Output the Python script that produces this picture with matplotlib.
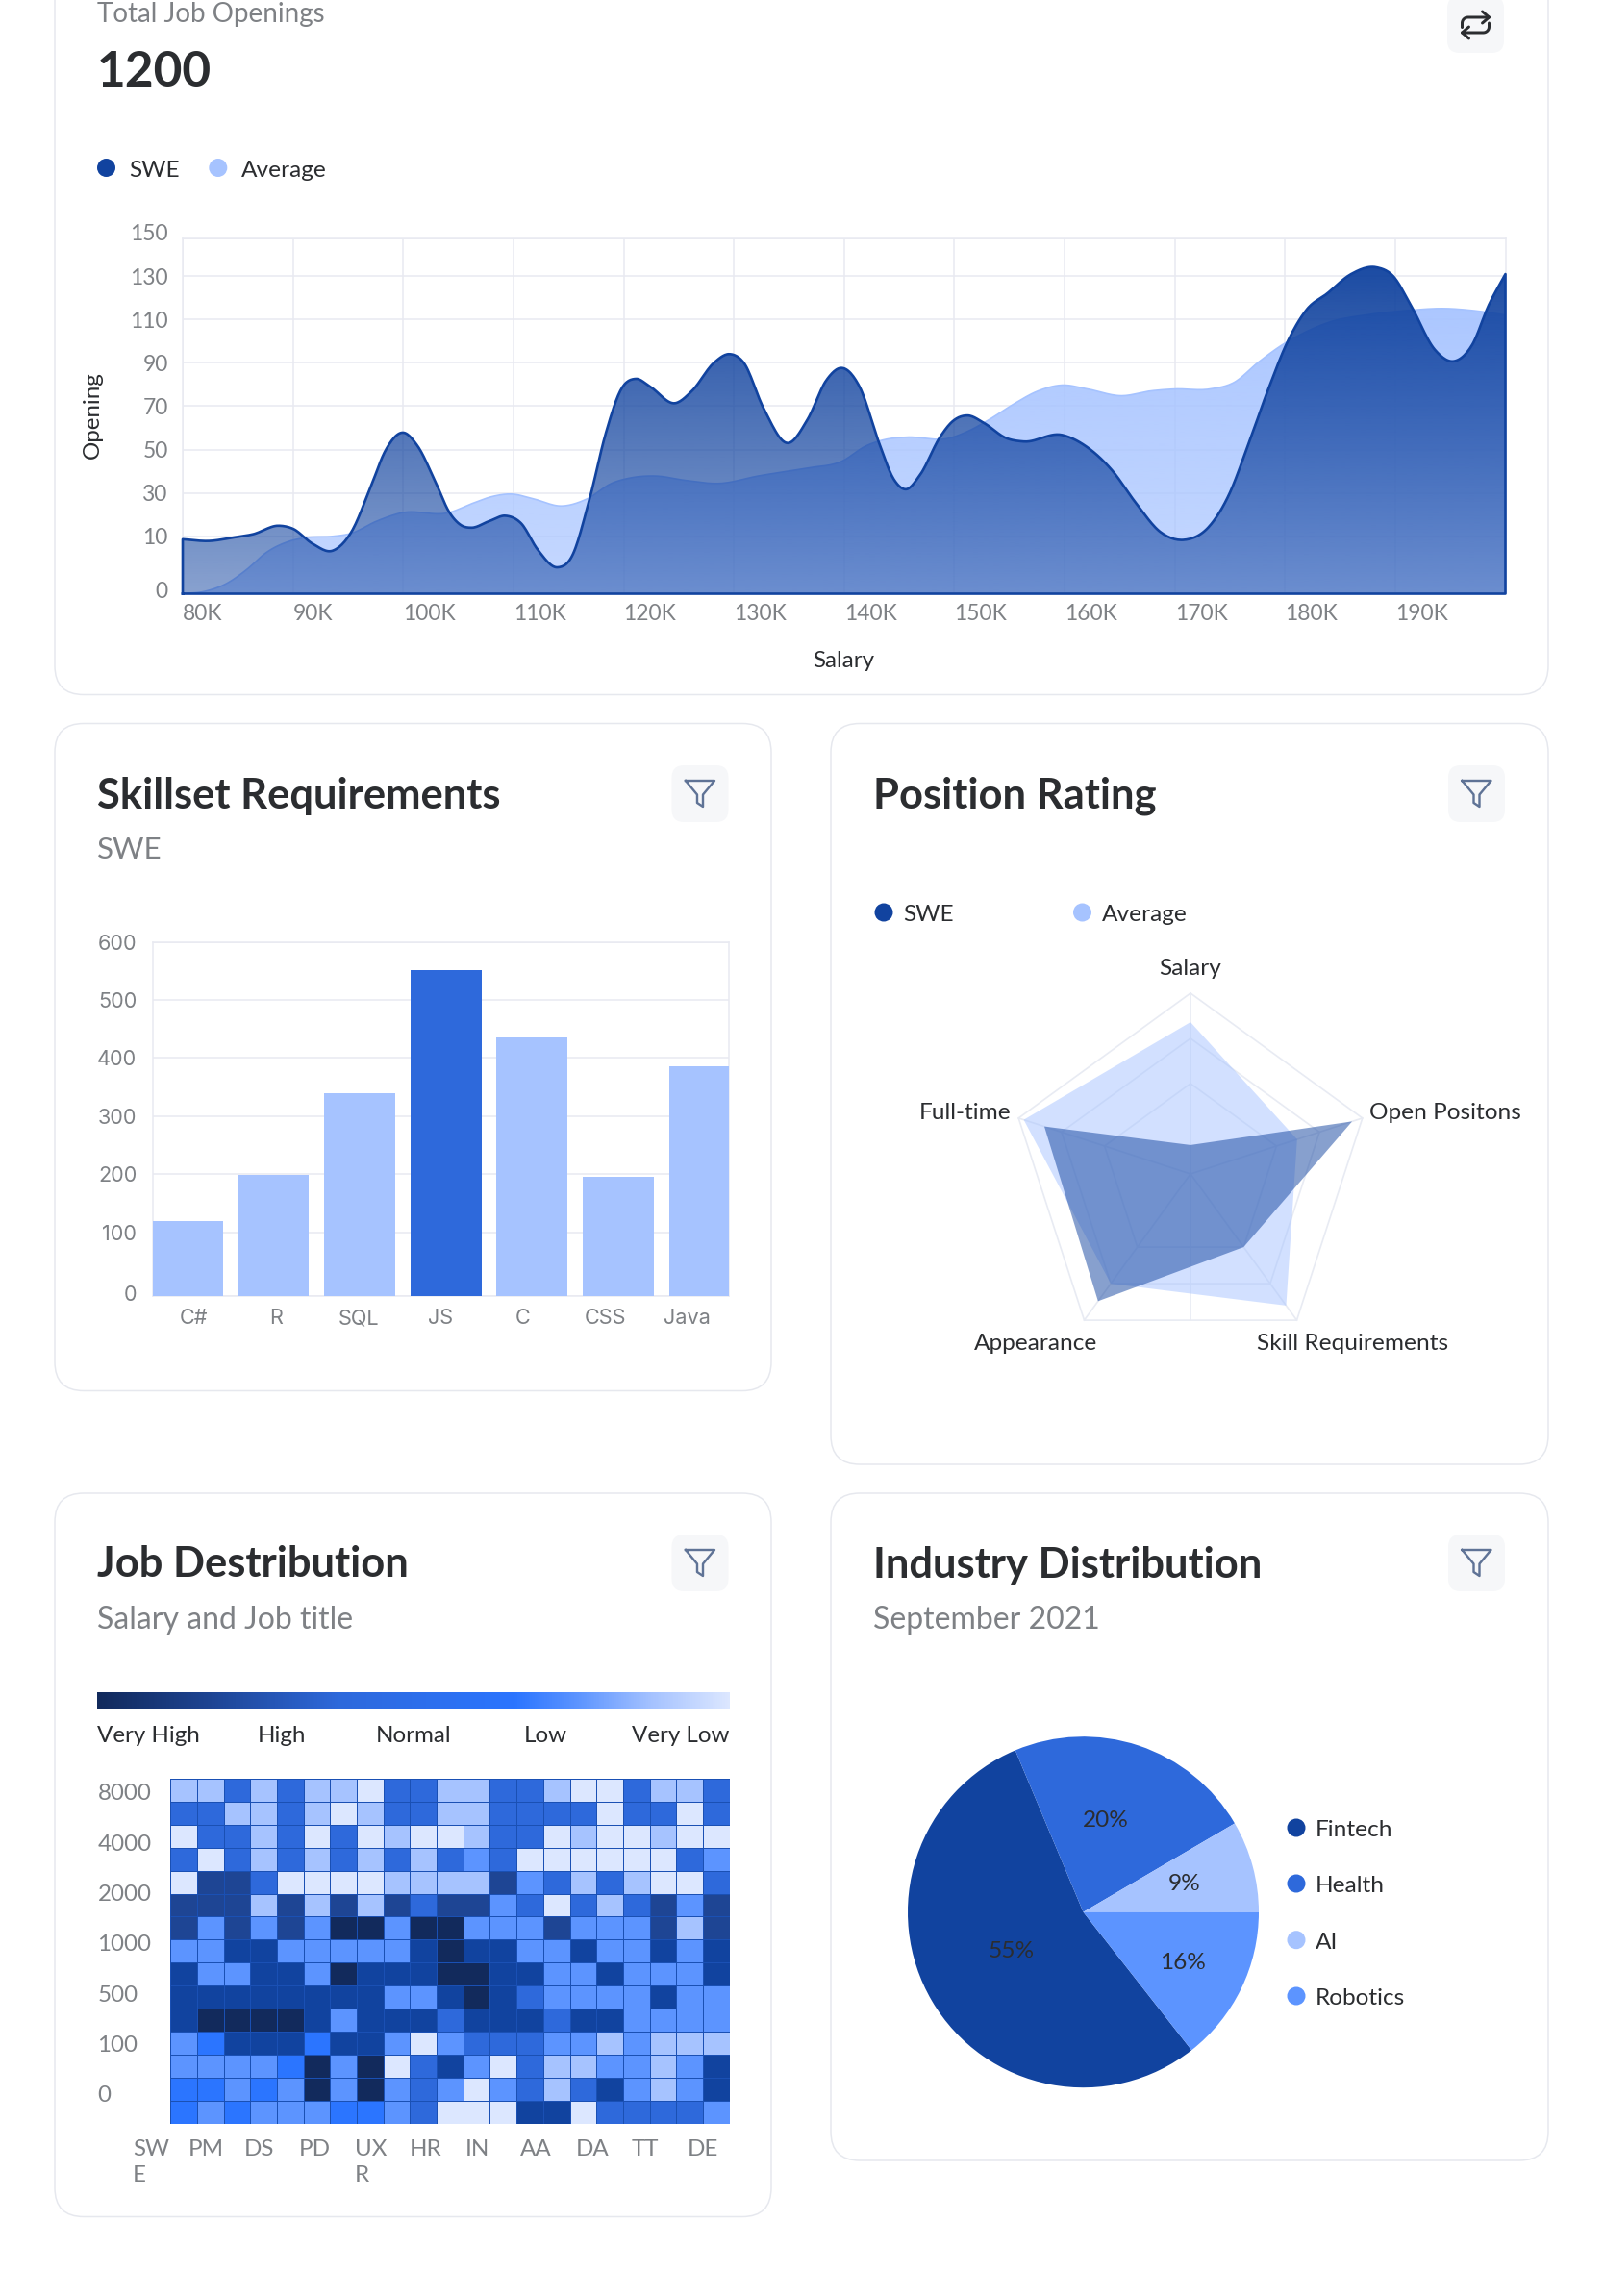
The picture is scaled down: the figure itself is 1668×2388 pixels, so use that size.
import numpy as np
import matplotlib
matplotlib.use("Agg")
import matplotlib.pyplot as plt
from matplotlib.colors import ListedColormap, LinearSegmentedColormap, to_rgb
from matplotlib.patches import FancyBboxPatch, Circle, PathPatch
from matplotlib.path import Path
from matplotlib.transforms import ScaledTranslation

plt.rcParams['font.family'] = ['Lato', 'DejaVu Sans']

# ---------- data ----------
salary_ticks = [80, 90, 100, 110, 120, 130, 140, 150, 160, 170, 180, 190]
opening_ticks = [0, 10, 30, 50, 70, 90, 110, 130, 150]

swe_x = [80, 82.4, 84.6, 86.4, 88.7, 90, 91.8, 93.6, 95.3, 97.1, 98.4, 100, 101.3, 102.9, 104.2, 105.3,
         106.2, 107.8, 109.3, 110.7, 112.2, 114, 115.3, 116.9, 118.4, 119.8, 121.1, 122.4, 124.7, 126.2,
         128.2, 129.6, 130.9, 132.7, 134.9, 136.7, 138.4, 139.8, 141.4, 143.2, 144.5, 145.6, 146.9, 148.7,
         149.8, 151.2, 152.7, 154.7, 156.3, 159.8, 162, 164.3, 166.5, 168.7, 170.9, 173.2, 174.9, 176.7,
         178.5, 180.3, 182, 183.8, 186, 188.3, 189.8, 191.4, 193.6, 195.3, 197, 198.5, 200]
swe_y = [9.5, 9.2, 9.8, 11, 14.9, 13.5, 8.7, 7.5, 12, 33.4, 49.6, 57.8, 51.7, 35.4, 21, 15,
         14, 17, 19.5, 16, 7.7, 4.6, 6.5, 27, 57.8, 78, 82.6, 79, 71.4, 77,
         90, 94, 90, 69, 53, 64, 82, 87.6, 79, 52.7, 36.4, 31.7, 38.4, 55.7,
         62.8, 65.7, 62.2, 55.3, 53.7, 56.7, 51.3, 40.5, 25.2, 12, 9.4, 15, 29, 52.7,
         78, 100.4, 114.7, 121.8, 131, 134.6, 130, 116.7, 96, 90.7, 98.4, 116.7, 131]
avg_x = [80, 82, 84, 85.8, 87.6, 89.6, 91.3, 93.6, 95.3, 97.6, 99.8, 104.2, 106.4, 108.2, 109.8, 111.8,
         114.4, 116.7, 118.9, 120.7, 122.9, 125.6, 128.7, 132.2, 136.7, 139.8, 142, 143.8, 145.6, 149.6,
         151.4, 153.2, 155.4, 157.6, 159.8, 162, 165.2, 167.8, 170, 173.2, 175.4, 177.6, 179.8, 182,
         184.2, 187.3, 190.9, 194.5, 197.2, 200]
avg_y = [0, 0.4, 1.8, 4.2, 7.2, 9.1, 9.8, 10, 11.4, 17, 20.8, 21, 25.4, 28.5, 29.5, 27.3,
         24, 27.3, 34.4, 37, 37.8, 35.8, 34.4, 37.8, 41.5, 44.6, 51.7, 54.7, 55.7, 55.3,
         58.8, 63.9, 71, 77, 79.7, 78, 74.8, 77, 77.9, 77.9, 81, 90.3, 98.4, 104.5,
         109, 112, 114, 115, 114, 112]

skills = ['C#', 'R', 'SQL', 'JS', 'C', 'CSS', 'Java']
skill_values = [119, 198, 339, 552, 435, 195, 386]
skill_ticks = [0, 100, 200, 300, 400, 500, 600]

radar_axes = ['Salary', 'Open Positons', 'Skill Requirements', 'Appearance', 'Full-time']
radar_avg = [84, 62, 90, 75, 97]
radar_swe = [16, 94, 50, 87, 85]

heat_rows = ["LLHLHLLWHHLLHHLWWHLLH",
             "HHLLHLWLHHLLHHHHWHHWH",
             "WHHLHWHWLWWLHHWLWWLWW",
             "HWHLHLHLHLHRHWWWWWWHR",
             "WMMHWWWWLLLLMRHLHLWWH",
             "MMMLMLMLMHMMRHWHLHMRM",
             "MRMRMRDDRDDRRRMRRRMLM",
             "RRNNRRRRRNDNNRRNRRNRN",
             "NRRNNRDNNNDDNNRRNRRRN",
             "NNNNNNNNRRNDNHRRRRNRR",
             "NDDDDNRNNNHNNNHNNRRRR",
             "RBNNNBNNRWRHHHRRLRLLL",
             "RRRRBDRDWHNRWHLLRRLRN",
             "BBRBRDRDRHRWRHLHNRLRN",
             "BRBRRRBBRHWWWNNWHHHHR"]
heat_levels = "WLRBHMND"
heat_y_labels = ['8000', '4000', '2000', '1000', '500', '100', '0']
heat_x_labels = ['SW\nE', 'PM', 'DS', 'PD', 'UX\nR', 'HR', 'IN', 'AA', 'DA', 'TT', 'DE']
scale_labels = ['Very High', 'High', 'Normal', 'Low', 'Very Low']

industries = ['Fintech', 'Health', 'AI', 'Robotics']
industry_labels = ['55%', '20%', '9%', '16%']
industry_shares = [54.25, 22.9, 8.45, 14.4]

# ---------- style ----------
DARK = '#2B2D30'
GRAY = '#7E8185'
GRID = '#E8EAF1'
NAVY = '#11439F'
BLUE = '#2E69DB'
BRIGHT = '#2B75FF'
SKY = '#5C94FF'
LIGHT = '#A6C3FF'
PALE = '#DCE7FF'
INK = '#122A5C'
MID = '#1E4594'

W, H = 1668, 2388
fig = plt.figure(figsize=(W / 100, H / 100), dpi=100, facecolor='white')
PT = 0.72  # points per pixel at dpi 100


def axes_px(left, top, right, bottom, **kw):
    return fig.add_axes([left / W, 1 - bottom / H, (right - left) / W, (bottom - top) / H], **kw)


bg = axes_px(0, 0, W, H, zorder=0)
bg.set_xlim(0, W); bg.set_ylim(H, 0); bg.axis('off')
fg = axes_px(0, 0, W, H, zorder=20)
fg.set_xlim(0, W); fg.set_ylim(H, 0); fg.axis('off'); fg.patch.set_alpha(0)


def card(x0, y0, x1, y1):
    bg.add_patch(FancyBboxPatch((x0, y0), x1 - x0, y1 - y0, boxstyle='round,pad=0,rounding_size=30',
                                fc='white', ec='#E6E8EE', lw=1.5 * PT, clip_on=True))


def text(x, y, s, size, color=DARK, ha='left', weight='normal', **kw):
    fg.text(x, y + 2.5, s, fontsize=size, color=color, ha=ha, va='center', fontweight=weight, **kw)


def dot(x, y, color):
    fg.add_patch(Circle((x, y), 9.5, fc=color, ec='none'))


def button(x0, y0, x1, y1):
    fg.add_patch(FancyBboxPatch((x0, y0), x1 - x0, y1 - y0, boxstyle='round,pad=0,rounding_size=13',
                                fc='#F6F7F9', ec='none'))


def filter_button(cx, cy):
    button(cx - 29.5, cy - 29.5, cx + 29.5, cy + 29.5)
    xs = np.array([-15, 15, 3, 3, -3, -3, -15])
    ys = np.array([-13.5, -13.5, 1, 13.5, 9.5, 1, -13.5])
    fg.plot(cx + xs, cy + ys, color='#5F7396', lw=2.4 * PT, solid_joinstyle='round')


def piecewise_funcs(values, positions):
    values = np.asarray(values, float); positions = np.asarray(positions, float)
    return (lambda v: np.interp(v, values, positions), lambda p: np.interp(p, positions, values))


def smooth(x, y, funcs, n=14):
    """Cubic Hermite through the read points, taken in axis position so the drawn line is a curve."""
    x = np.asarray(x, float); y = funcs[0](np.asarray(y, float))
    m = np.gradient(y, x)
    out_x, out_y = [], []
    for i in range(len(x) - 1):
        h = x[i + 1] - x[i]
        t = np.linspace(0, 1, n, endpoint=False)
        h00 = 2 * t**3 - 3 * t**2 + 1
        h10 = t**3 - 2 * t**2 + t
        h01 = -2 * t**3 + 3 * t**2
        h11 = t**3 - t**2
        out_x.append(x[i] + t * h)
        out_y.append(h00 * y[i] + h10 * h * m[i] + h01 * y[i + 1] + h11 * h * m[i + 1])
    out_x.append([x[-1]]); out_y.append([y[-1]])
    return np.concatenate(out_x), funcs[1](np.concatenate(out_y))


def gradient_fill(ax, x, y, color, a_top, a_bottom, zorder):
    verts = np.column_stack([np.r_[x[0], x, x[-1]], np.r_[0, y, 0]])
    clip = PathPatch(Path(verts), transform=ax.transData, fc='none', ec='none')
    ax.add_patch(clip)
    rgba = np.ones((256, 1, 4))
    rgba[..., :3] = to_rgb(color)
    rgba[:, 0, 3] = np.linspace(a_top, a_bottom, 256)
    im = ax.imshow(rgba, extent=(0, 1, 0, 1), transform=ax.transAxes, aspect='auto', zorder=zorder,
                   interpolation='bilinear')
    im.set_clip_path(clip)
    return verts


# ---------- cards ----------
card(57, -40, 1610, 722.5)
card(57, 752.5, 802, 1446.5)
card(864, 752.5, 1610, 1523)
card(57, 1553, 802, 2305.5)
card(864, 1553, 1610, 2247)

# ---------- area chart ----------
text(101, 12, 'Total Job Openings', 20, GRAY)
text(101, 73.5, '1200', 37, DARK, weight='bold')
dot(110.5, 174.5, NAVY); text(134, 174.5, 'SWE', 17.6)
dot(226.8, 174.5, LIGHT); text(250.5, 174.5, 'Average', 17.6)

button(1505, -4, 1564, 55)
OFF = -1.5
fg.plot(np.array([1522, 1522]) + OFF, [28, 24], color=DARK, lw=3 * PT, solid_capstyle='round')
arrow_style = dict(color=DARK, lw=3 * PT, solid_capstyle='round', solid_joinstyle='round')
t = np.linspace(np.pi, 1.5 * np.pi, 8)
fg.plot(np.r_[1522, 1528 + 6 * np.cos(t), 1550] + OFF, np.r_[28, 24 + 6 * np.sin(t), 18], **arrow_style)
fg.plot(np.array([1543, 1550, 1543]) + OFF, [12, 18, 24], **arrow_style)
t = np.linspace(0, 0.5 * np.pi, 8)
fg.plot(np.r_[1550, 1544 + 6 * np.cos(t), 1522] + OFF, np.r_[24, 28 + 6 * np.sin(t), 34], **arrow_style)
fg.plot(np.array([1529, 1522, 1529]) + OFF, [28, 34, 40], **arrow_style)

ax = axes_px(190, 248, 1565.5, 617.5, zorder=5)
area_funcs = piecewise_funcs([0, 10, 130, 150], [0, 130, 720, 805])
ax.set_yscale('function', functions=area_funcs)
ax.set_xlim(80, 200); ax.set_ylim(0, 150)
ax.set_xticks(salary_ticks); ax.set_xticklabels([f'{v}K' for v in salary_ticks], ha='left')
ax.set_yticks(opening_ticks); ax.set_yticklabels([str(v) for v in opening_ticks])
ax.set_yticks([], minor=True)
ax.tick_params(axis='both', length=0, labelsize=16.4, labelcolor=GRAY)
ax.tick_params(axis='x', pad=7.5)
ax.tick_params(axis='y', pad=11)
for lbl, v in zip(ax.get_yticklabels(), opening_ticks):
    shift = {0: 2.7, 150: 4.5}.get(v, 0)
    lbl.set_transform(lbl.get_transform() + ScaledTranslation(0, shift / 72, fig.dpi_scale_trans))
ax.grid(True, color=GRID, lw=1.1, zorder=0)
ax.set_axisbelow(True)
for s in ax.spines.values():
    s.set_color(GRID); s.set_linewidth(1.1)
ax.set_xlabel('Salary', fontsize=17.4, color=DARK)
ax.xaxis.set_label_coords((877 - 190) / 1375.5, -(687.5 - 617.5) / 369.5)
ax.xaxis.label.set_va('center')
ax.set_ylabel('Opening', fontsize=17.4, color=DARK)
ax.yaxis.set_label_coords(-(190 - 96.5) / 1375.5, (617.5 - 431.6) / 369.5)
ax.yaxis.label.set_va('center')

ax_x, ax_y = smooth(avg_x, avg_y, area_funcs)
sw_x, sw_y = smooth(swe_x, swe_y, area_funcs)
gradient_fill(ax, ax_x, ax_y, LIGHT, 1.0, 0.65, 2)
ax.plot(ax_x, ax_y, color=LIGHT, lw=1.2, zorder=3)
v = gradient_fill(ax, sw_x, sw_y, NAVY, 1.0, 0.5, 4)
ax.plot(np.r_[v[:, 0], v[0, 0]], np.r_[v[:, 1], v[0, 1]], color=NAVY, lw=1.9, zorder=6, clip_on=False,
        solid_joinstyle='round')
ax.set_xlim(80, 200); ax.set_ylim(0, 150)

# ---------- bars ----------
text(101, 825, 'Skillset Requirements', 31.3, DARK, weight='bold')
text(101, 881.5, 'SWE', 22.6, GRAY)
filter_button(728, 825.5)

bx = axes_px(159, 979.6, 757.5, 1348, zorder=5)
bar_funcs = piecewise_funcs([0, 100, 600], [0, 163, 903])
bx.set_yscale('function', functions=bar_funcs)
bx.set_xlim(-0.5, 6.5); bx.set_ylim(0, 600)
band = 598.5 / 7
bar_offset = (194.5 - 201.75) / band
bar_step = 89.7 / band
bar_pos = [bar_offset + i * (bar_step) for i in range(len(skills))]
bar_colors = [BLUE if s == 'JS' else LIGHT for s in skills]
bx.bar(bar_pos, skill_values, width=74 / band, color=bar_colors, zorder=3, clip_on=True)
bx.set_xticks(range(len(skills))); bx.set_xticklabels(skills, family=['Inter', 'DejaVu Sans'])
bx.set_yticks(skill_ticks); bx.set_yticklabels([str(v) for v in skill_ticks], family=['Inter', 'DejaVu Sans'])
bx.set_yticks([], minor=True)
bx.tick_params(axis='both', length=0, labelsize=15.6, labelcolor=GRAY)
bx.tick_params(axis='x', pad=9.5)
bx.tick_params(axis='y', pad=12)
for lbl, v in zip(bx.get_yticklabels(), skill_ticks):
    shift = {0: 2.0}.get(v, 0)
    lbl.set_transform(lbl.get_transform() + ScaledTranslation(0, shift / 72, fig.dpi_scale_trans))
bx.grid(True, axis='y', color=GRID, lw=1.1, zorder=0)
bx.set_axisbelow(True)
for s in bx.spines.values():
    s.set_color(GRID); s.set_linewidth(1.1)

# ---------- radar ----------
text(908, 825, 'Position Rating', 31.3, DARK, weight='bold')
filter_button(1535.5, 825.5)
dot(919, 949, NAVY); text(939, 949, 'SWE', 17.6)
dot(1125.5, 949, LIGHT); text(1146, 949, 'Average', 17.6)

R = 188
cx, cy = 1238, 1221
rx = axes_px(cx - R, cy - R, cx + R, cy + R, projection='polar', zorder=5)
rx.set_theta_zero_location('N'); rx.set_theta_direction(-1)
rx.set_ylim(0, 100)
rx.set_xticks([]); rx.set_yticks([])
rx.grid(False); rx.spines['polar'].set_visible(False); rx.patch.set_alpha(0)
theta = np.linspace(0, 2 * np.pi, len(radar_axes), endpoint=False)
closed = np.r_[theta, theta[0]]
for ring in [50, 75, 100]:
    rx.plot(closed, [ring] * len(closed), color='#E8EBF3', lw=1.2, zorder=1, clip_on=False)
for th in theta:
    rx.plot([th, th], [0, 100], color='#E8EBF3', lw=1.2, zorder=1, clip_on=False)
rx.plot([np.pi, np.pi], [0, 100 * np.cos(np.pi / 5)], color='#E8EBF3', lw=1.2, zorder=1)
rx.fill(closed, np.r_[radar_avg, radar_avg[0]], color=LIGHT, alpha=0.5, lw=0, zorder=2)
rx.fill(closed, np.r_[radar_swe, radar_swe[0]], color=NAVY, alpha=0.5, lw=0, zorder=3)
text(1238, 1005.5, radar_axes[0], 17.6, ha='center')
text(1424, 1155, radar_axes[1], 17.6)
text(1406.5, 1395, radar_axes[2], 17.6, ha='center')
text(1077, 1395, radar_axes[3], 17.6, ha='center')
text(1051.5, 1155, radar_axes[4], 17.6, ha='right')

# ---------- heatmap ----------
text(101, 1625, 'Job Destribution', 31.3, DARK, weight='bold')
text(101, 1682.5, 'Salary and Job title', 23, GRAY)
filter_button(728, 1625.5)

scale_ax = axes_px(101, 1760, 758.8, 1776.7, zorder=5)
scale_cmap = LinearSegmentedColormap.from_list(
    'scale', [(0, INK), (0.18, '#1E4594'), (0.38, BLUE), (0.66, BRIGHT), (0.76, SKY), (0.88, LIGHT), (1, PALE)])
scale_ax.imshow(np.linspace(0, 1, 512)[None, :], cmap=scale_cmap, aspect='auto')
scale_ax.axis('off')
text(101, 1803.5, scale_labels[0], 17.4)
text(292.5, 1803.5, scale_labels[1], 17.4, ha='center')
text(430, 1803.5, scale_labels[2], 17.4, ha='center')
text(567.5, 1803.5, scale_labels[3], 17.4, ha='center')
text(758.8, 1803.5, scale_labels[4], 17.4, ha='right')

cell = 581.7 / 21
hx = axes_px(138, 1850, 758.6, 2208.7, zorder=5)
heat = np.array([[heat_levels.index(c) for c in row] for row in heat_rows])
heat_cmap = ListedColormap([PALE, LIGHT, SKY, BRIGHT, BLUE, MID, NAVY, INK])
hx.pcolormesh(np.arange(22), np.arange(16), heat, cmap=heat_cmap, vmin=-0.5, vmax=7.5,
              edgecolors='#1A50B4', linewidth=0.4)
hx.set_xlim(-(177 - 138) / cell, 21); hx.set_ylim(15, 0)
hx.set_xticks(-1.42 + 2.082 * np.arange(len(heat_x_labels)))
hx.set_xticklabels(heat_x_labels, ha='left', va='top', linespacing=1.32)
hx.set_yticks(0.57 + 2.19 * np.arange(len(heat_y_labels)))
hx.set_yticklabels(heat_y_labels, ha='left')
hx.tick_params(axis='both', length=0, labelsize=17.4, labelcolor=GRAY)
hx.tick_params(axis='x', pad=12)
hx.tick_params(axis='y', pad=26.3)
for s in hx.spines.values():
    s.set_visible(False)

# ---------- pie ----------
text(908, 1625, 'Industry Distribution', 31.3, DARK, weight='bold')
text(908, 1682.5, 'September 2021', 23, GRAY)
filter_button(1535.5, 1625.5)

pie_colors = [NAVY, BLUE, LIGHT, SKY]
PR = 182.5
px = axes_px(1126.5 - PR, 1988.7 - PR, 1126.5 + PR, 1988.7 + PR, zorder=5)
px.pie(industry_shares, colors=pie_colors, startangle=-51.9, counterclock=False, radius=1,
       wedgeprops=dict(lw=0))
px.set_xlim(-1, 1); px.set_ylim(-1, 1)
pie_text_xy = [(1052, 2027), (1149.5, 1891.5), (1231.5, 1957), (1229.5, 2038.5)]
for (x, y), s in zip(pie_text_xy, industry_labels):
    text(x, y, s, 17.6, ha='center')
for y, c, name in zip([1901, 1959, 2017.7, 2076], pie_colors, industries):
    dot(1348, y, c)
    text(1368, y, name, 17.6)

fig.savefig('out.png', dpi=100, facecolor='white')
